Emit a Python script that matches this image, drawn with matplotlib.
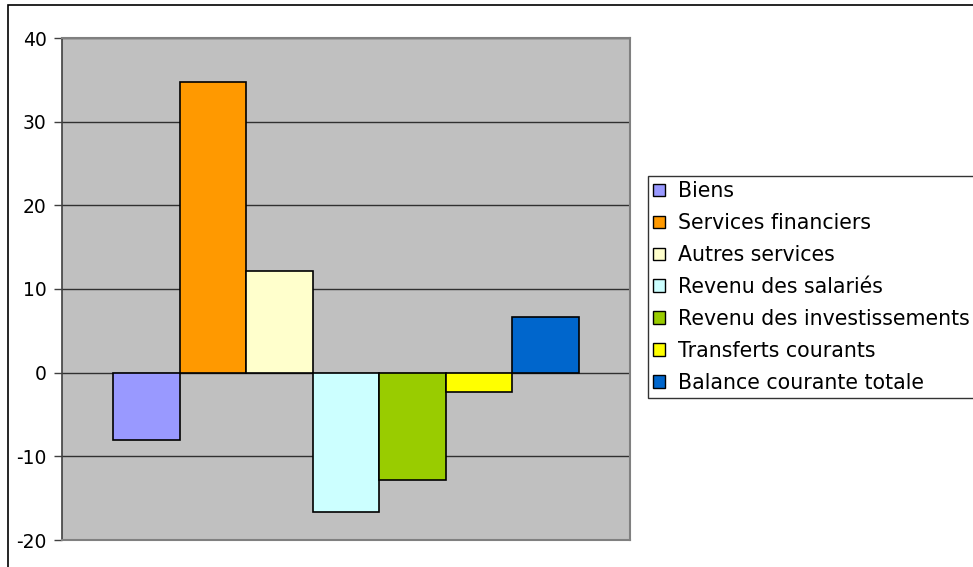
"""Balance courante par composante, histogramme groupé façon tableur."""

import matplotlib.pyplot as plt
from matplotlib.patches import Patch, Rectangle

plt.rcParams["font.family"] = ["DejaVu Sans"]

CATEGORIES = [
    "Biens",
    "Services financiers",
    "Autres services",
    "Revenu des salariés",
    "Revenu des investissements",
    "Transferts courants",
    "Balance courante totale",
]
VALUES = [-8.0, 34.8, 12.1, -16.7, -12.8, -2.3, 6.7]
COLORS = ["#9999FF", "#FF9900", "#FFFFCC", "#CCFFFF", "#99CC00", "#FFFF00", "#0066CC"]
Y_TICKS = [-20, -10, 0, 10, 20, 30, 40]

W, H = 973, 567
fig = plt.figure(figsize=(W / 100, H / 100), dpi=100)
ax = fig.add_axes([62 / W, 1 - 540 / H, (630 - 62) / W, (540 - 38) / H])
ax.set_facecolor("#C0C0C0")

positions = list(range(len(VALUES)))
ax.bar(positions, VALUES, width=1.0, color=COLORS, edgecolor="black", linewidth=1.2, zorder=3)

ax.set_ylim(-20, 40)
ax.set_xlim(-1.265, len(VALUES) - 1 + 1.265)
ax.set_yticks(Y_TICKS)
ax.set_yticklabels([str(t) for t in Y_TICKS], fontsize=13.5)
ax.set_xticks([])
ax.yaxis.grid(True, color="#303030", linewidth=1.0, zorder=1)
ax.set_axisbelow(True)
ax.tick_params(axis="y", direction="out", length=6, width=1, color="#404040", pad=5)

for side in ["top", "right", "bottom"]:
    ax.spines[side].set_color("#808080")
    ax.spines[side].set_linewidth(1.5)
ax.spines["left"].set_color("#404040")
ax.spines["left"].set_linewidth(1.2)

handles = [Patch(facecolor=c, edgecolor="black", linewidth=1.0) for c in COLORS]
leg = fig.legend(
    handles,
    CATEGORIES,
    loc="upper left",
    bbox_to_anchor=(648 / W, 1 - 176 / H),
    frameon=True,
    fancybox=False,
    fontsize=14.8,
    handlelength=0.6,
    handleheight=0.55,
    handletextpad=0.6,
    labelspacing=0.58,
    borderpad=0.25,
    borderaxespad=0,
)
leg.get_frame().set_edgecolor("black")
leg.get_frame().set_linewidth(1.0)

# cadre extérieur du graphique (coupé à droite et en bas)
fig.patches.append(
    Rectangle((8 / W, -0.05), 1.2, 1 - 5 / H + 0.05, transform=fig.transFigure,
              fill=False, edgecolor="black", linewidth=1.2)
)

fig.savefig("out.png", dpi=100)
